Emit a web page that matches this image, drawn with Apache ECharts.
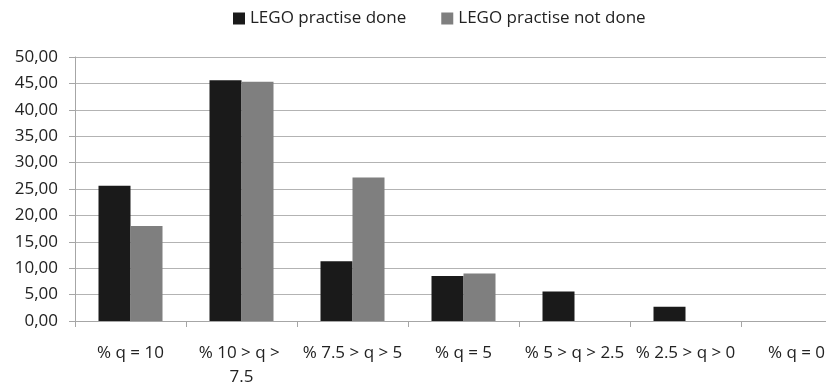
<!DOCTYPE html>
<html>
<head>
<meta charset="utf-8">
<script src="https://cdn.jsdelivr.net/npm/echarts@6/dist/echarts.min.js"></script>
<style>
html, body { margin: 0; padding: 0; background: #fff; }
#chart { width: 826px; height: 383px; }
</style>
</head>
<body>
<div id="chart"></div>
<script>
var categories = ['% q = 10', '% 10 > q > 7.5', '% 7.5 > q > 5', '% q = 5', '% 5 > q > 2.5', '% 2.5 > q > 0', '% q = 0'];
var practiseDone = [25.6, 45.6, 11.3, 8.5, 5.6, 2.7, 0];
var practiseNotDone = [18.0, 45.3, 27.2, 9.0, 0, 0, 0];
var seriesNames = ['LEGO practise done', 'LEGO practise not done'];

var chart = echarts.init(document.getElementById('chart'));
var font = '"Open Sans", "DejaVu Sans", sans-serif';

chart.setOption({
	animation: false,
	textStyle: { fontFamily: font },
	legend: {
		top: 5,
		left: 228,
		itemWidth: 12,
		itemHeight: 12,
		itemGap: 35,
		icon: 'rect',
		itemStyle: { borderWidth: 0 },
		textStyle: { fontSize: 17, color: '#222', fontFamily: font },
		data: seriesNames
	},
	// the plot runs past the right edge of the picture, as in the source
	grid: { left: 75, width: 777, top: 57, bottom: 62, outerBoundsMode: 'none' },
	xAxis: {
		type: 'category',
		data: categories,
		axisLine: { lineStyle: { color: '#a6a6a6' } },
		axisTick: { show: true, length: 6, lineStyle: { color: '#a6a6a6' } },
		axisLabel: {
			interval: 0,
			margin: 20,
			fontSize: 17,
			color: '#222',
			width: 108,
			overflow: 'break',
			lineHeight: 24
		}
	},
	yAxis: {
		type: 'value',
		min: 0,
		max: 50,
		interval: 5,
		axisLine: { show: true, lineStyle: { color: '#a6a6a6' } },
		axisTick: { show: true, length: 6, lineStyle: { color: '#a6a6a6' } },
		splitLine: { lineStyle: { color: '#b3b3b3' } },
		axisLabel: {
			fontSize: 17,
			color: '#222',
			margin: 17,
			formatter: function (v) { return v.toFixed(2).replace('.', ','); }
		}
	},
	series: [
		{
			name: seriesNames[0],
			type: 'bar',
			data: practiseDone,
			barWidth: 32,
			barGap: '0%',
			itemStyle: { color: '#1a1a1a' }
		},
		{
			name: seriesNames[1],
			type: 'bar',
			data: practiseNotDone,
			barWidth: 32,
			itemStyle: { color: '#7f7f7f' }
		}
	]
});
</script>
</body>
</html>
